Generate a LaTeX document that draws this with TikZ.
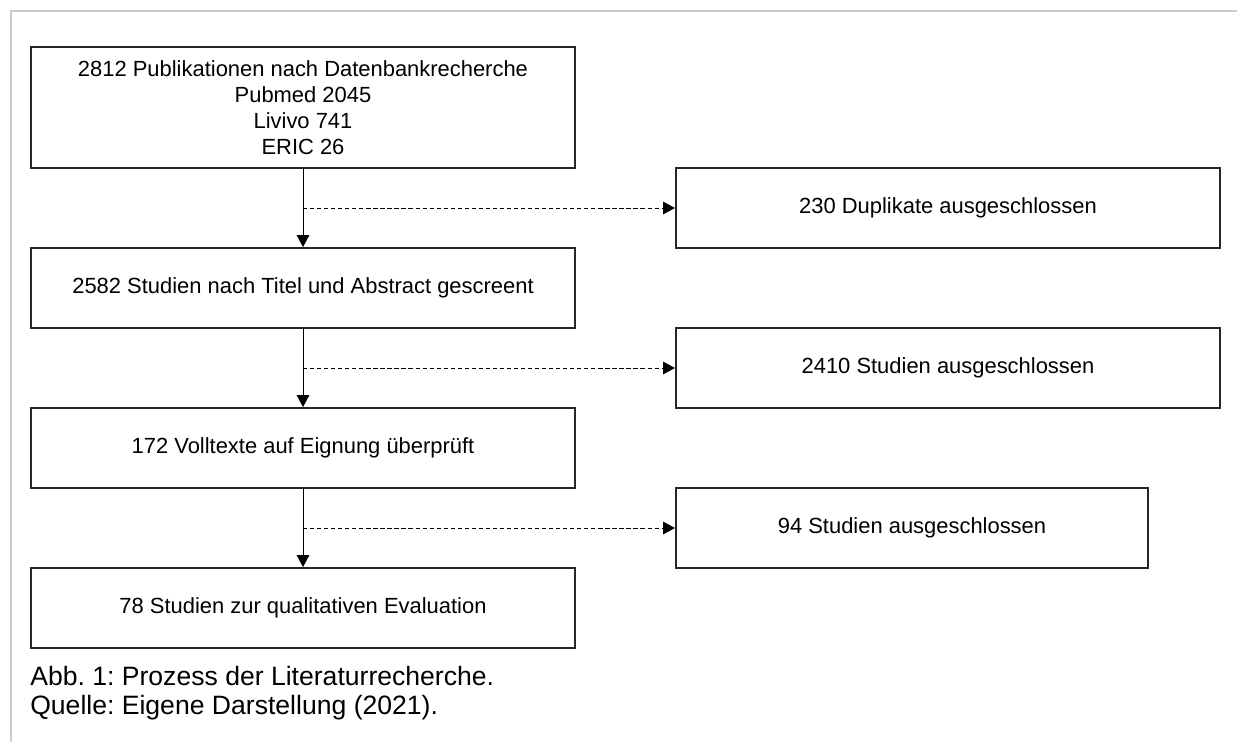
\documentclass[tikz,border=0pt]{standalone}
\usepackage{fontspec}
\setmainfont{Liberation Sans}
\frenchspacing
\usetikzlibrary{arrows.meta}
\tikzset{
  box/.style={draw=black!85, line width=1.4pt, minimum width=13.6cm, minimum height=2cm,
    align=center, font=\fontsize{15.6}{18.5}\selectfont},
  flow/.style={-{Triangle[length=8.5pt,width=9pt]}, line width=0.6pt},
  skip/.style={flow, dash pattern=on 3pt off 2pt},
  caption/.style={anchor=base west, inner sep=0pt, font=\fontsize{18.9}{21.5}\selectfont}
}
\begin{document}
\begin{tikzpicture}[x=0.025cm, y=-0.025cm]
    \useasboundingbox (0,0) rectangle (1237,742);
    \draw [black!20, line width=0.8pt] (1237,11) -- (11,11) -- (11,742);
    \node [box, minimum height=3.025cm] (pub) at (303,107.5) {2812 Publikationen nach Datenbankrecherche\\Pubmed 2045\\Livivo 741\\ERIC 26};
    \node [box] (screen) at (303,288) {2582 Studien nach Titel und Abstract gescreent};
    \node [box] (full) at (303,448) {172 Volltexte auf Eignung überprüft};
    \node [box] (final) at (303,608) {78 Studien zur qualitativen Evaluation};
    \node [box] (dup) at (948,208) {230 Duplikate ausgeschlossen};
    \node [box] (excl1) at (948,368) {2410 Studien ausgeschlossen};
    \node [box, minimum width=11.8cm] (excl2) at (912,528) {94 Studien ausgeschlossen};
    \coordinate (b1) at (303,208);
    \coordinate (b2) at (303,368);
    \coordinate (b3) at (303,528);
    \draw [flow] (pub) -- (screen);
    \draw [flow] (screen) -- (full);
    \draw [flow] (full) -- (final);
    \draw [skip] (b1) -- (dup);
    \draw [skip] (b2) -- (excl1);
    \draw [skip] (b3) -- (excl2);
    \node [caption] (cap1) at (30,685) {Abb. 1: Prozess der Literaturrecherche.};
    \node [caption] (cap2) at (30,714) {Quelle: Eigene Darstellung (2021).};
  \end{tikzpicture}
\end{document}
